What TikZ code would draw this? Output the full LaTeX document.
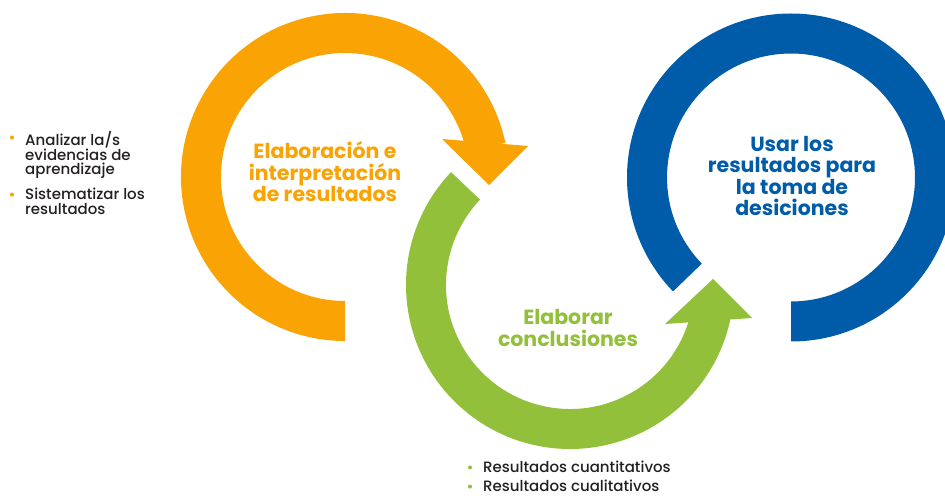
\documentclass[tikz,border=0pt]{standalone}
\usepackage{fontspec}
\setmainfont{Poppins}
\newfontfamily\medio{Poppins}[UprightFont=* Medium]
\usepackage{tikz}
\usetikzlibrary{positioning, calc}

\definecolor{naranja}{HTML}{F9A304}
\definecolor{verde}{HTML}{93C03B}
\definecolor{azul}{HTML}{005CA9}
\definecolor{texto}{HTML}{231F20}

\tikzset{
  titulo/.style={align=center, inner sep=0pt, font=\fontsize{20.5}{21.5}\selectfont\bfseries},
  lista/.style={align=left, inner sep=0pt, anchor=north west, text=texto, font=\medio\fontsize{15}{14.8}\selectfont},
}

\begin{document}
\begin{tikzpicture}[x=1pt, y=1pt]
\useasboundingbox (0,0) rectangle (945,498);
\clip (0,0) rectangle (945,498);
% centres of the three rings
\coordinate (co) at (345,321);
\coordinate (cg) at (570,213);
\coordinate (cb) at (791,320.5);
\foreach \cen/\sa/\ea/\col in {co/12/270/naranja, cg/136.5/348/verde, cb/-90/224/azul} {
    \fill[\col] ([shift={(\sa:164)}]\cen) arc[start angle=\sa, end angle=\ea, radius=164]
        -- ([shift={(\ea:124)}]\cen) arc[start angle=\ea, end angle=\sa, radius=124] -- cycle;
}
% arrow heads
\fill[naranja] (442,359) -- (528,352) -- (489,313) -- cycle;
\fill[verde] (665,174) -- (752,180) -- (713,219) -- cycle;

\node[titulo, text=naranja] (elab) at (325,326) {Elaboración e\\interpretación\\de resultados};
\node[titulo, text=verde] (concl) at (568,170) {Elaborar\\conclusiones};
\node[titulo, text=azul] (usar) at (792,322) {Usar los\\resultados para\\la toma de\\desiciones};

% lists
\node[lista] (l1) at (25,367) {Analizar la/s\\evidencias de\\aprendizaje};
\node[lista, below=9pt of l1.south west, anchor=north west] (l2) {Sistematizar los\\resultados};
\node[lista] (r1) at (483,37) {Resultados cuantitativos};
\node[lista, below=7pt of r1.south west, anchor=north west] (r2) {Resultados cualitativos};
\foreach \n in {l1, l2} {
    \fill[naranja] ($(\n.north west)+(-13,-6.5)$) circle (2);
}
\foreach \n in {r1, r2} {
    \fill[verde] ($(\n.north west)+(-13,-6.5)$) circle (2);
}
\end{tikzpicture}
\end{document}
